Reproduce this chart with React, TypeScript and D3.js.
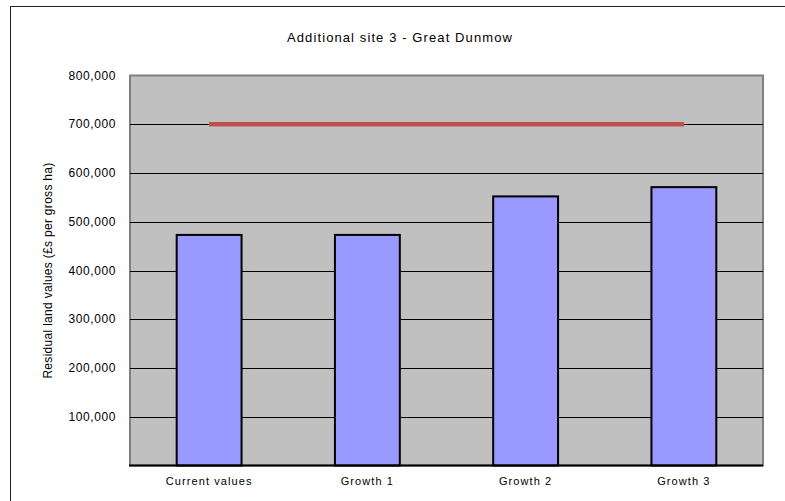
import React from "react";
import * as d3 from "d3";

const categories = ["Current values", "Growth 1", "Growth 2", "Growth 3"];
const values = [473000, 473000, 552000, 571000];
const benchmark = [700000, 700000, 700000, 700000];
const yTicks = [100000, 200000, 300000, 400000, 500000, 600000, 700000, 800000];
const title = "Additional site 3 - Great Dunmow";
const yTitle = "Residual land values (£s per gross ha)";

export default function App() {
  const W = 785, H = 501;
  const plot = { left: 130, right: 763, top: 75.5, bottom: 465.5 };
  const x = d3.scaleBand<string>().domain(categories).range([plot.left, plot.right]).padding(0);
  const y = d3.scaleLinear().domain([0, 800000]).range([plot.bottom, plot.top]);
  const barW = x.bandwidth() * 0.41;
  const fmt = d3.format(",");
  const font = "Arial, 'Liberation Sans', sans-serif";
  const line = d3
    .line<number>()
    .x((_, i) => (x(categories[i]) as number) + x.bandwidth() / 2)
    .y((d) => y(d));

  return (
    <svg width={W} height={H} style={{ position: "absolute", left: 0, top: 0, background: "#fff" }} fontFamily={font}>
      <rect x={10.5} y={6.5} width={W + 20} height={H + 20} fill="#fff" stroke="#222" strokeWidth={1} />
      <text x={400} y={42} textAnchor="middle" fontSize={13} letterSpacing={1.1} fill="#000">{title}</text>
      <rect x={plot.left} y={plot.top} width={plot.right - plot.left} height={plot.bottom - plot.top} fill="#C0C0C0" stroke="#808080" strokeWidth={2} />
      {yTicks.slice(0, -1).map((t) => (
        <line key={t} x1={plot.left} x2={plot.right} y1={Math.round(y(t)) + 0.5} y2={Math.round(y(t)) + 0.5} stroke="#000" strokeWidth={1} />
      ))}
      {yTicks.map((t) => (
        <text key={"l" + t} x={116} y={y(t) + 4} textAnchor="end" fontSize={12} letterSpacing={0.6} fill="#000">{fmt(t)}</text>
      ))}
      <text transform={`translate(52,${(plot.top + plot.bottom) / 2}) rotate(-90)`} textAnchor="middle" fontSize={12} letterSpacing={0.3} fill="#000">{yTitle}</text>
      {values.map((v, i) => {
        const cx = (x(categories[i]) as number) + x.bandwidth() / 2;
        return (
          <rect key={categories[i]} x={cx - barW / 2} y={y(v)} width={barW} height={plot.bottom - y(v)} fill="#9999FF" stroke="#000" strokeWidth={2} />
        );
      })}
      <path d={line(benchmark) || ""} fill="none" stroke="#C0504D" strokeWidth={4.5} />
      <line x1={plot.left - 1} x2={plot.right} y1={plot.bottom} y2={plot.bottom} stroke="#000" strokeWidth={2} />
      {categories.map((c) => (
        <text key={"x" + c} x={(x(c) as number) + x.bandwidth() / 2} y={485} textAnchor="middle" fontSize={11} letterSpacing={1.1} fill="#000">{c}</text>
      ))}
    </svg>
  );
}
